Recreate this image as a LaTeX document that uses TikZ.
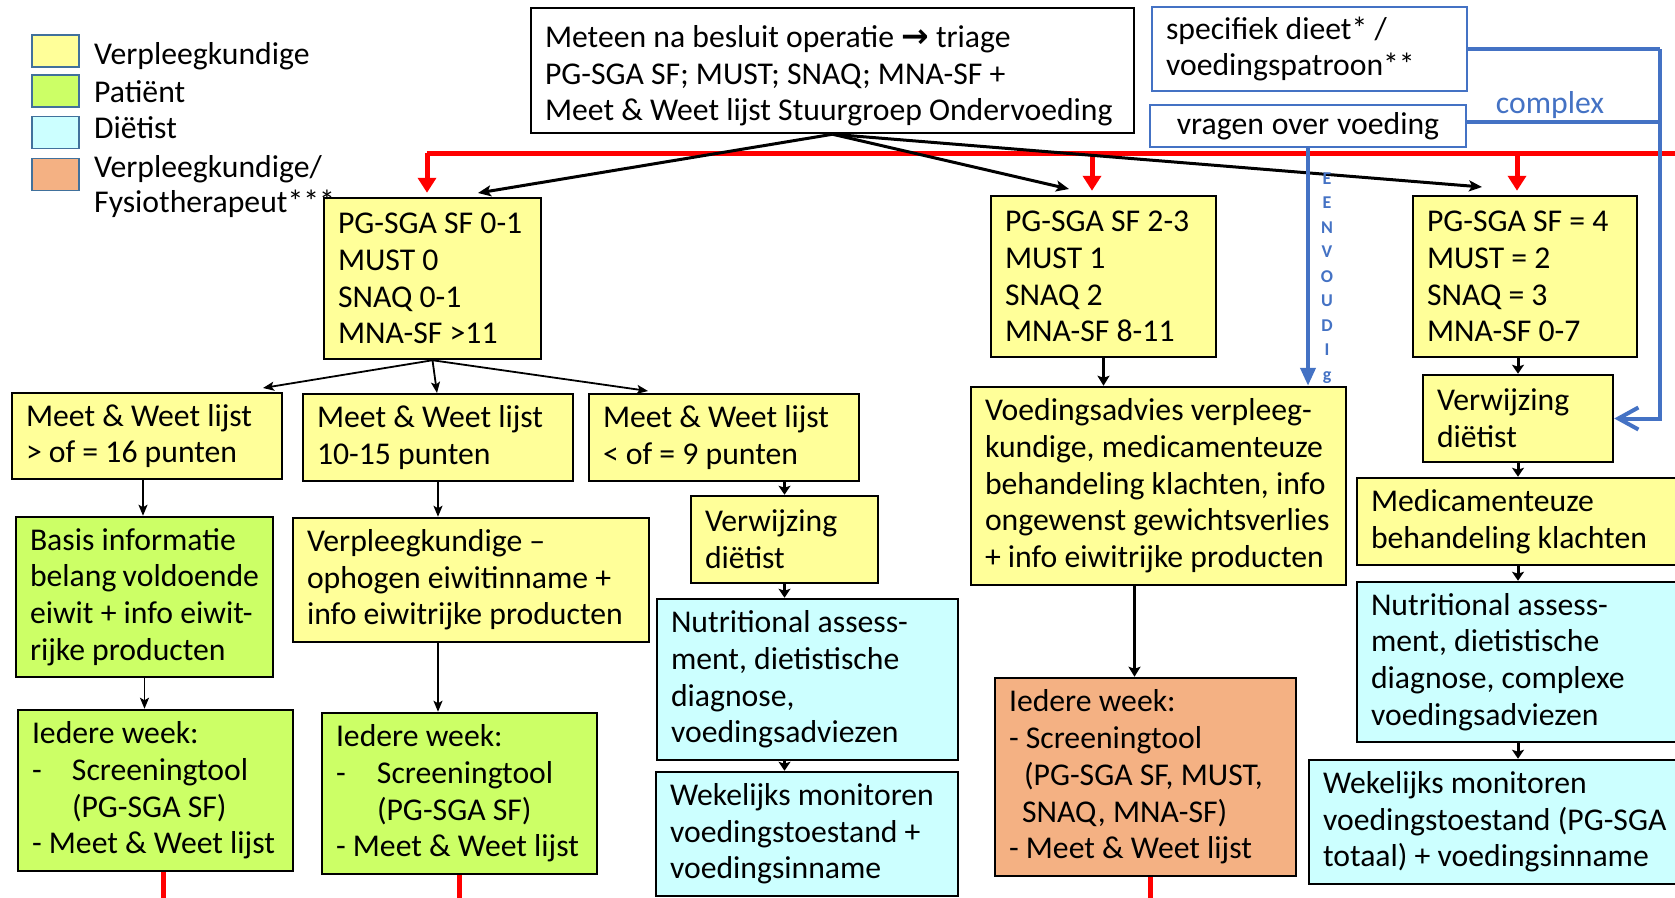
\documentclass[tikz,border=0pt]{standalone}
\usepackage{fontspec}
\setmainfont{Carlito}
\newfontfamily\arrfont{DejaVu Sans}
\usetikzlibrary{arrows.meta}
\definecolor{yel}{HTML}{FFFF99}
\definecolor{grn}{HTML}{CCFF66}
\definecolor{cyn}{HTML}{CCFFFF}
\definecolor{org}{HTML}{F4B183}
\definecolor{blu}{HTML}{4472C4}
\definecolor{legb}{HTML}{41719C}
\newcommand\myfs{\fontsize{31.7}{36.7}\selectfont}
\newcommand\boxnode[7][]{%
  \pgfmathsetmacro\bxW{#5-#3}%
  \pgfmathsetmacro\bxH{#6-#4}%
  \pgfmathsetmacro\bxT{#5-#3-28}%
  \pgfmathsetmacro\bxX{(#3+#5)/2}%
  \pgfmathsetmacro\bxY{(#4+#6)/2}%
  \node[box,#1,minimum width=\bxW pt,minimum height=\bxH pt,text width=\bxT pt] (#2) at (\bxX,\bxY) {\spaceskip=0pt \xspaceskip=0pt \hyphenpenalty=10000 \exhyphenpenalty=10000 #7};}
\begin{document}
\begin{tikzpicture}[x=1pt,y=-1pt,
  box/.style={draw=black,line width=2.5pt,inner sep=0pt,align=left,font=\myfs},
  bbox/.style={draw=blu,line width=1.5pt,fill=white},
  leg/.style={draw=legb,line width=1.5pt,minimum width=47pt,minimum height=32pt,inner sep=0pt},
  legtxt/.style={anchor=base west,inner sep=0pt,font=\myfs},
  mainarr/.style={line width=3pt,-{Stealth[length=13pt,width=11pt,inset=3pt]}},
  thinarr/.style={line width=1.8pt,-{Stealth[length=11pt,width=9pt,inset=2.5pt]}},
  shortarr/.style={line width=3pt,-{Stealth[length=9pt,width=12pt,inset=2pt]}},
  thickarr/.style={line width=3.5pt,-{Stealth[length=10pt,width=12pt,inset=2pt]}},
  redl/.style={draw=red,line width=5pt},
  redarr/.style={draw=red,line width=5pt,-{Triangle[length=15pt,width=18pt]},shorten >=4pt},
  blul/.style={draw=blu,line width=4pt},
]
\fill[white] (0,0) rectangle (1675,897);
\useasboundingbox (0,0) rectangle (1675,897);

% top boxes
\boxnode{top}{531}{8}{1134}{133}{\rule{0pt}{33pt}Meteen~na~besluit~operatie~{\arrfont\bfseries\fontsize{33}{36}\selectfont →}~triage\\PG-SGA~SF;~MUST;~SNAQ;~MNA-SF~+\\Meet~\&~Weet~lijst~Stuurgroep~Ondervoeding}
\boxnode[bbox]{spec}{1152}{7}{1467}{91}{specifiek~dieet*~/\\voedingspatroon**}
\boxnode[bbox,align=center]{vrag}{1150}{105}{1466}{147}{vragen~over~voeding}

% screening boxes
\boxnode[fill=yel]{b01}{324}{198}{541}{359}{PG-SGA~SF~0-1\\MUST~0\\SNAQ~0-1\\MNA-SF~>11}
\boxnode[fill=yel]{b23}{991}{196}{1216}{357}{PG-SGA~SF~2-3\\MUST~1\\SNAQ~2\\MNA-SF~8-11}
\boxnode[fill=yel]{b4}{1413}{196}{1637}{357}{PG-SGA~SF~=~4\\MUST~=~2\\SNAQ~=~3\\MNA-SF~0-7}

% left branch
\boxnode[fill=yel]{m1}{12}{393}{282}{479}{Meet~\&~Weet~lijst\\>~of~=~16~punten}
\boxnode[fill=yel]{m2}{303}{394}{573}{481}{Meet~\&~Weet~lijst\\10-15~punten}
\boxnode[fill=yel]{m3}{589}{394}{859}{481}{Meet~\&~Weet~lijst\\<~of~=~9~punten}
\boxnode[fill=grn]{basis}{16}{517}{273}{677}{Basis~informatie\\belang~voldoende\\eiwit~+~info~eiwit-\\rijke~producten}
\boxnode[fill=yel]{verpl}{293}{518}{649}{642}{Verpleegkundige~–\\ophogen~eiwitinname~+\\info~eiwitrijke~producten}
\boxnode[fill=yel]{verw}{691}{496}{878}{583}{Verwijzing\\diëtist}
\boxnode[fill=cyn]{nutr}{657}{599}{958}{760}{Nutritional~assess-\\ment,~dietistische\\diagnose,\\voedingsadviezen}
\boxnode[fill=cyn]{wek}{656}{772}{958}{896}{Wekelijks~monitoren\\voedingstoestand~+\\voedingsinname}
\boxnode[fill=grn]{iw1}{18}{710}{293}{871}{Iedere~week:\\\makebox[40pt][l]{-}Screeningtool\\\hspace*{40pt}(PG-SGA~SF)\\-~Meet~\&~Weet~lijst}
\boxnode[fill=grn]{iw2}{322}{713}{597}{874}{Iedere~week:\\\makebox[41pt][l]{-}Screeningtool\\\hspace*{41pt}(PG-SGA~SF)\\-~Meet~\&~Weet~lijst}

% middle branch
\boxnode[fill=yel]{voed}{971}{387}{1346}{585}{Voedingsadvies~verpleeg-\\kundige,~medicamenteuze\\behandeling~klachten,~info\\ongewenst~gewichtsverlies\\+~info~eiwitrijke~producten}
\boxnode[fill=org]{orng}{995}{678}{1296}{876}{Iedere~week:\\-~Screeningtool\\\hspace*{15pt}(PG-SGA~SF,~MUST,\\\hspace*{13pt}SNAQ,~MNA-SF)\\-~Meet~\&~Weet~lijst}

% right branch
\boxnode[fill=yel]{verw2}{1423}{375}{1613}{462}{Verwijzing\\diëtist}
\boxnode[fill=yel]{medic}{1357}{478}{1700}{565}{Medicamenteuze\\behandeling~klachten}
\boxnode[fill=cyn]{nutr2}{1357}{582}{1700}{742}{Nutritional~assess-\\ment,~dietistische\\diagnose,~complexe\\voedingsadviezen}
\boxnode[fill=cyn]{wek2}{1309}{760}{1700}{884}{Wekelijks~monitoren\\voedingstoestand~(PG-SGA\\totaal)~+~voedingsinname}

% legend
\node[leg,fill=yel] (leg1) at (55.5,51) {};
\node[leg,fill=grn] (leg2) at (55.5,91) {};
\node[leg,fill=cyn] (leg3) at (55.5,132.5) {};
\node[leg,fill=org] (leg4) at (55.5,174.5) {};
\node[legtxt] (lt1) at (94,64) {Verpleegkundige};
\node[legtxt] (lt2) at (94,102) {Patiënt};
\node[legtxt] (lt3) at (94,138) {Diëtist};
\node[legtxt] (lt4) at (94,177) {Verpleegkundige/};
\node[legtxt] (lt5) at (94,212) {Fysiotherapeut***};

% red triage line
\coordinate (rE) at (1700,153);
\coordinate (r1) at (427,153);
\coordinate (r2) at (1092,153);
\coordinate (r3) at (1517,153);
\draw[redl] (rE) -- (r1);
\draw[redarr] (r1) -- (r1 |- b01.north);
\draw[redarr] (r2) -- (r2 |- b23.north);
\draw[redarr] (r3) -- (r3 |- b4.north);

% main black arrows
\coordinate (ta) at (478,193);
\coordinate (tb) at (1069,189);
\coordinate (tc) at (1482,187);
\draw[mainarr] (top.south) -- (ta);
\draw[mainarr] (top.south) -- (tb);
\draw[mainarr] (top.south) -- (tc);

% left tree
\coordinate (t1) at (263,388);
\coordinate (t2) at (437,393);
\coordinate (t3) at (648,391);
\draw[thinarr] (b01.south) -- (t1);
\draw[thinarr] (b01.south) -- (t2);
\draw[thinarr] (b01.south) -- (t3);
\draw[thinarr] ([xshift=-4pt]m1.south) -- ([xshift=-4pt]m1.south |- basis.north);
\draw[thinarr] (m2.south) -- (m2.south |- verpl.north);
\draw[thinarr] (basis.south) -- (basis.south |- iw1.north);
\draw[thinarr] (m2.south |- verpl.south) -- (m2.south |- iw2.north);
\draw[shortarr] (verw.north |- m3.south) -- (verw.north);
\draw[shortarr] (verw.south) -- (verw.south |- nutr.north);
\draw[shortarr] (verw.south |- nutr.south) -- (verw.south |- wek.north);

% middle
\draw[thickarr] (b23.south) -- (b23.south |- voed.north);
\coordinate (vo) at ([xshift=-11pt]orng.north);
\draw[thickarr] (vo |- voed.south) -- (vo);

% right
\draw[shortarr] (verw2.north |- b4.south) -- (verw2.north);
\draw[shortarr] (verw2.south) -- (verw2.south |- medic.north);
\draw[shortarr] (verw2.south |- medic.south) -- (verw2.south |- nutr2.north);
\draw[shortarr] (verw2.south |- nutr2.south) -- (verw2.south |- wek2.north);

% red continuation lines at bottom
\draw[redl] ([xshift=7.5pt]iw1.south) -- ++(0,40);
\draw[redl] (iw2.south) -- ++(0,40);
\draw[redl] ([xshift=4.5pt]orng.south) -- ++(0,40);

% blue connectors
\coordinate (bc) at (1660,49);
\draw[blul,-{Triangle[length=18pt,width=15pt]}] (vrag.south) -- (vrag.south |- voed.north);
\draw[blul] (spec.east) -- (bc);
\draw[blul] ([yshift=4pt]vrag.east) -- ([yshift=4pt]vrag.east -| bc);
\draw[blul,-{Straight Barb[length=20pt,width=22pt]}] (bc) -- (bc |- verw2.east) -- (verw2.east);
\node[text=blu,font=\myfs,anchor=base,inner sep=0pt] (cplx) at (1550,113) {complex};
\node[text=blu,font=\bfseries\fontsize{18}{24.5}\selectfont,align=center,inner sep=0pt] (eenv) at (1327,278) {E\\E\\N\\V\\O\\U\\D\\I\\g};
\end{tikzpicture}
\end{document}
